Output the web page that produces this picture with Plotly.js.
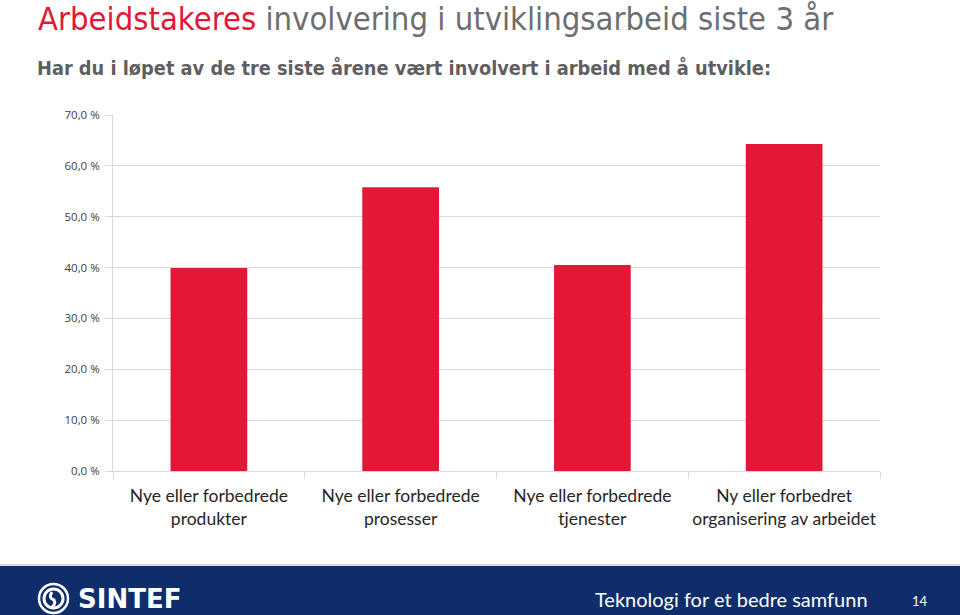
<!DOCTYPE html>
<html>
<head>
<meta charset="utf-8">
<script src="https://cdn.plot.ly/plotly-3.0.1.min.js"></script>
<style>
html,body{margin:0;padding:0;background:#fff;}
#chart{width:960px;height:615px;}
</style>
</head>
<body>
<div id="chart"></div>
<script>
const categories = [
  "Nye eller forbedrede<br>produkter",
  "Nye eller forbedrede<br>prosesser",
  "Nye eller forbedrede<br>tjenester",
  "Ny eller forbedret<br>organisering av arbeidet"
];
const values = [39.9, 55.8, 40.5, 64.3];
const yTickVals = [0, 10, 20, 30, 40, 50, 60, 70];
const yTickText = yTickVals.map(v => v.toFixed(1).replace(".", ",") + " %");

const titleRed = "Arbeidstakeres";
const titleRest = " involvering i utviklingsarbeid siste 3 år";
const subtitle = "Har du i løpet av de tre siste årene vært involvert i arbeid med å utvikle:";
const footerText = "Teknologi for et bedre samfunn";
const pageNo = "14";
const logoText = "SINTEF";

// plot area in pixels
const L = 113, R = 880, T = 115, B = 471;
const X = px => (px - L) / (R - L);
const Y = py => (B - py) / (B - T);

const navy = "#0e2d6a";

const trace = {
  type: "bar",
  x: categories,
  y: values,
  marker: {color: "#e31837"},
  hoverinfo: "skip"
};

const layout = {
  width: 960, height: 615,
  margin: {l: L, r: 960 - R, t: T, b: 615 - B, pad: 0},
  paper_bgcolor: "#ffffff",
  plot_bgcolor: "#ffffff",
  showlegend: false,
  bargap: 0.6,
  font: {family: "Lato, 'Open Sans', sans-serif", color: "#262626"},
  xaxis: {
    type: "category",
    showgrid: false,
    showline: true, linecolor: "#d9d9d9", linewidth: 1,
    ticks: "outside", tickson: "boundaries", ticklen: 7, tickcolor: "#d9d9d9",
    tickangle: 0,
    tickfont: {size: 17.5, color: "#262626", family: "Lato, sans-serif"},
    ticklabelstandoff: 9,
    fixedrange: true
  },
  yaxis: {
    range: [0, 70],
    tickmode: "array",
    tickvals: yTickVals,
    ticktext: yTickText,
    showgrid: true, gridcolor: "#d9d9d9", gridwidth: 1,
    showline: true, linecolor: "#d9d9d9", linewidth: 1,
    ticks: "outside", ticklen: 7, tickcolor: "#d9d9d9",
    tickfont: {size: 11.5, color: "#404040", family: "'Open Sans', sans-serif"},
    ticklabelstandoff: 3,
    zeroline: false,
    fixedrange: true
  },
  shapes: [
    {type: "rect", xref: "paper", yref: "paper", x0: X(0), x1: X(960), y0: Y(615), y1: Y(566),
     fillcolor: navy, line: {width: 0}, layer: "above"},
    {type: "line", xref: "paper", yref: "paper", x0: X(0), x1: X(960), y0: Y(565), y1: Y(565),
     line: {color: "#c9ccd3", width: 1.5}},
    // logo rings
    {type: "circle", xref: "paper", yref: "paper", x0: X(39), x1: X(68), y0: Y(613), y1: Y(584),
     line: {color: "#ffffff", width: 2.5}, fillcolor: "rgba(0,0,0,0)", layer: "above"},
    {type: "circle", xref: "paper", yref: "paper", x0: X(44), x1: X(63), y0: Y(608), y1: Y(589),
     line: {color: "#ffffff", width: 3}, fillcolor: "rgba(0,0,0,0)", layer: "above"},
    {type: "path", xref: "paper", yref: "paper",
     path: `M ${X(52)} ${Y(592)} Q ${X(48)} ${Y(598)} ${X(54)} ${Y(600)} Q ${X(56)} ${Y(604)} ${X(52)} ${Y(607)}`,
     line: {color: "#ffffff", width: 3}, layer: "above"}
  ],
  annotations: [
    {xref: "paper", yref: "paper", x: X(36), y: Y(19), xanchor: "left", yanchor: "middle", showarrow: false,
     text: `<span style="color:#e31837">${titleRed}</span>${titleRest}`,
     font: {size: 32.5, color: "#6d6e71", family: "'Liberation Sans Narrow', 'DejaVu Sans Condensed', sans-serif"}},
    {xref: "paper", yref: "paper", x: X(35), y: Y(68), xanchor: "left", yanchor: "middle", showarrow: false,
     text: `<b>${subtitle}</b>`,
     font: {size: 19.8, color: "#5f5f5f", family: "'Liberation Sans Narrow', 'DejaVu Sans Condensed', sans-serif"}},
    {xref: "paper", yref: "paper", x: X(76), y: Y(599), xanchor: "left", yanchor: "middle", showarrow: false,
     text: `<b>${logoText}</b>`,
     font: {size: 26, color: "#ffffff", family: "'DejaVu Sans', sans-serif"}},
    {xref: "paper", yref: "paper", x: X(870), y: Y(599), xanchor: "right", yanchor: "middle", showarrow: false,
     text: footerText,
     font: {size: 20, color: "#ffffff", family: "Lato, 'Open Sans', sans-serif"}},
    {xref: "paper", yref: "paper", x: X(920), y: Y(601), xanchor: "center", yanchor: "middle", showarrow: false,
     text: pageNo,
     font: {size: 13, color: "#ffffff", family: "Lato, sans-serif"}}
  ]
};

Plotly.newPlot("chart", [trace], layout, {displayModeBar: false, staticPlot: true});
</script>
</body>
</html>
